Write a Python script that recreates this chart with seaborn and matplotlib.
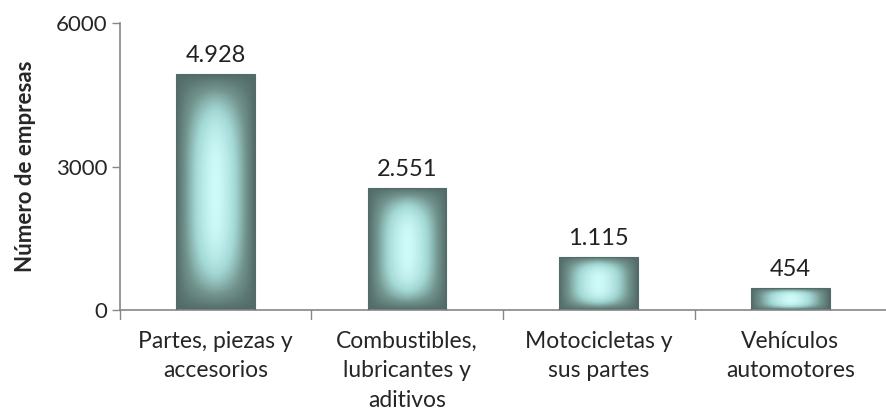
import numpy as np
import pandas as pd
import seaborn as sns
import matplotlib.pyplot as plt
from matplotlib.colors import LinearSegmentedColormap

# Chart data
categories = [
    "Partes, piezas y\naccesorios",
    "Combustibles,\nlubricantes y\naditivos",
    "Motocicletas y\nsus partes",
    "Vehículos\nautomotores",
]
empresas = [4928, 2551, 1115, 454]
value_labels = ["4.928", "2.551", "1.115", "454"]
y_ticks = [0, 3000, 6000]

df = pd.DataFrame({"categoria": categories, "empresas": empresas})

sns.set_theme(style="white")
plt.rcParams["font.family"] = ["Lato", "DejaVu Sans"]

fig = plt.figure(figsize=(8.87, 4.18), dpi=100)
ax = fig.add_axes([0.135, 0.258, 0.864, 0.687])

sns.barplot(data=df, x="categoria", y="empresas", width=0.41,
            color="#7fa8a6", edgecolor="none", ax=ax)

# gradient "bevel" fill for each bar
cmap = LinearSegmentedColormap.from_list(
    "bevel", ["#526b69", "#73958f", "#a3d8d5", "#cdfbf9"])
gx = np.linspace(-1, 1, 120)
gy = np.linspace(-1, 1, 200)
X, Y = np.meshgrid(gx, gy)
shade = (1 - np.abs(X) ** 1.6) * (1 - np.abs(Y) ** 3)
for patch in ax.patches:
    x0, y0 = patch.get_x(), patch.get_y()
    w, h = patch.get_width(), patch.get_height()
    im = ax.imshow(shade, cmap=cmap, vmin=0, vmax=1, aspect="auto",
                   extent=[x0, x0 + w, y0, y0 + h], zorder=patch.get_zorder() + 0.1)
    im.set_clip_path(patch)
    ax.add_patch(plt.Rectangle((x0, y0), w, h, fill=False,
                               edgecolor="#556b6a", linewidth=0.8, zorder=3))

for i, (v, lab) in enumerate(zip(empresas, value_labels)):
    ax.text(i, v + 170, lab, ha="center", va="bottom", fontsize=17, color="#222222")

ax.set_xlim(-0.5, 3.5)
ax.set_ylim(0, 6000)
ax.set_yticks(y_ticks)
ax.set_yticklabels([str(t) for t in y_ticks], fontsize=16)
ax.set_xticks(range(len(categories)))
ax.set_xticklabels(categories, fontsize=16.5, linespacing=1.5)
ax.tick_params(axis="x", length=0, pad=15)
ax.tick_params(axis="y", length=6, width=1, color="#868686", direction="out", left=True, pad=3)
# category separators on the x axis
for b in np.arange(-0.5, 3.0, 1.0):
    ax.plot([b, b], [0, -0.03], transform=ax.get_xaxis_transform(),
            color="#868686", lw=1, clip_on=False)

ax.set_xlabel("")
ax.set_ylabel("Número de empresas", fontsize=16, fontweight="bold", labelpad=14)
sns.despine(ax=ax, top=True, right=True)
for s in ["left", "bottom"]:
    ax.spines[s].set_color("#868686")
    ax.spines[s].set_linewidth(1.2)

fig.savefig("out.png", dpi=100)
